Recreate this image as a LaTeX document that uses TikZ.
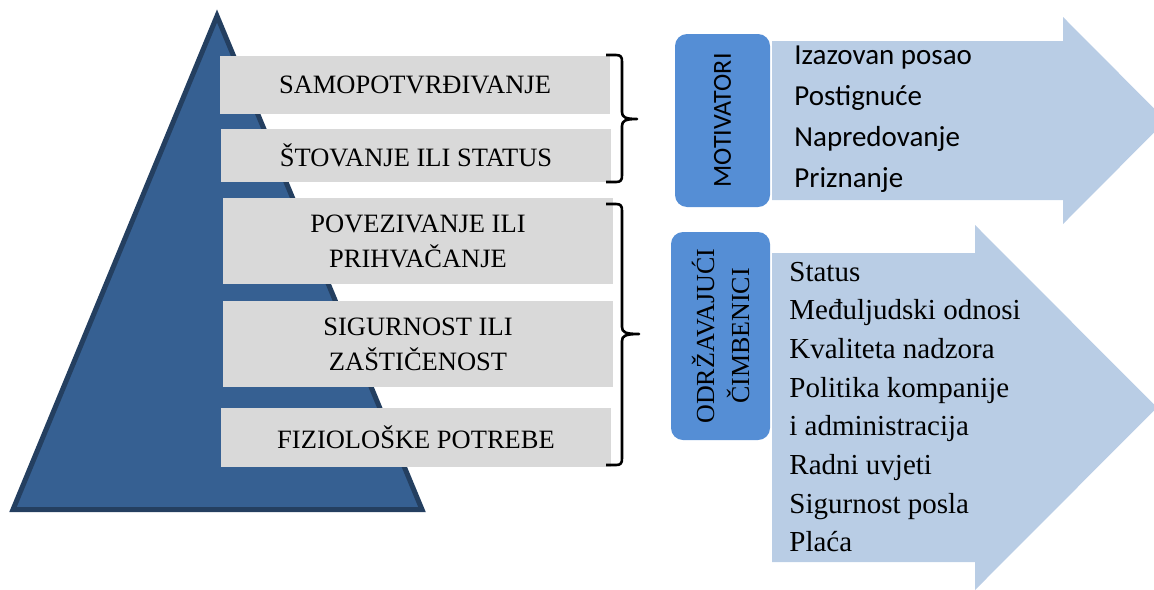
\documentclass[tikz,border=0pt]{standalone}
\usepackage{fontspec}
\setmainfont{Liberation Serif}
\newfontfamily\calibri{Carlito}

\definecolor{pyrblue}{RGB}{54,96,146}
\definecolor{pyredge}{RGB}{36,63,96}
\definecolor{levelgray}{RGB}{217,217,217}
\definecolor{tagblue}{RGB}{85,142,213}
\definecolor{arrowblue}{RGB}{185,205,229}

\begin{document}
\begin{tikzpicture}[
      x=0.5pt, y=-0.5pt,
      level/.style={fill=levelgray, inner sep=0pt, minimum width=195pt, align=center,
        font=\fontsize{13.25}{17.5}\selectfont},
      tag/.style={fill=tagblue, rounded corners=6pt, rotate=90, inner sep=0pt, align=center},
      item/.style={anchor=base west, inner sep=0pt},
      bracket/.style={line width=1.3pt, line join=round},
    ]
      \useasboundingbox (0,0) rectangle (1154,589);
      \clip (0,0) rectangle (1154,589);

      % pyramid
      \draw[fill=pyrblue, draw=pyredge, line width=2.5pt] (217,16) -- (13,509.5) -- (422,509.5) -- cycle;

      % levels of needs
      \node[level, minimum height=29pt] (selfact) at (415,85) {SAMOPOTVRĐIVANJE};
      \node[level, minimum height=26.5pt] (esteem) at (416,155.5) {ŠTOVANJE ILI STATUS};
      \node[level, minimum height=43pt] (belong) at (418,241) {POVEZIVANJE ILI\\PRIHVAČANJE};
      \node[level, minimum height=43pt] (safety) at (418,344) {SIGURNOST ILI\\ZAŠTIČENOST};
      \node[level, minimum height=29.5pt] (physio) at (416,437.5) {FIZIOLOŠKE POTREBE};

      % brackets
      \draw[bracket] (606,55) -- (616,55) .. controls (621,55) and (622,57) .. (622,62)
        -- (622,112) .. controls (622,117) and (625,119) .. (637,119)
        .. controls (625,119) and (622,121) .. (622,126)
        -- (622,175) .. controls (622,180) and (621,182) .. (616,182) -- (606,182);
      \draw[bracket] (606,204) -- (616,204) .. controls (621,204) and (622,206) .. (622,211)
        -- (622,327) .. controls (622,332) and (625,334) .. (639,334)
        .. controls (625,334) and (622,336) .. (622,341)
        -- (622,458) .. controls (622,463) and (621,465) .. (616,465) -- (606,465);

      % arrows
      \fill[arrowblue] (772,41) -- (1063,41) -- (1063,17) -- (1166,120.5) -- (1063,224)
        -- (1063,200) -- (772,200) -- cycle;
      \fill[arrowblue] (772,253) -- (975,253) -- (975,225) -- (1157,407.5) -- (975,590)
        -- (975,562) -- (772,562) -- cycle;

      % tags
      \node[tag, minimum width=86.5pt, minimum height=47.5pt,
        font=\calibri\fontsize{13}{15}\selectfont] (motiv) at (722.5,120.5) {MOTIVATORI};
      \node[tag, minimum width=104pt, minimum height=49.5pt,
        font=\fontsize{13}{17.5}\selectfont] (hygiene) at (720.5,336) {ODRŽAVAJUĆI\\ČIMBENICI};

      % factor lists
      \foreach \txt [count=\i] in {Izazovan posao, Postignuće, Napredovanje, Priznanje}
        \node[item, font=\calibri\fontsize{14.5}{17}\selectfont] (mot\i) at (794,{64+41.3*(\i-1)}) {\txt};
      \foreach \txt [count=\i] in {Status, Međuljudski odnosi, Kvaliteta nadzora, Politika kompanije,
          i administracija, Radni uvjeti, Sigurnost posla, Plaća}
        \node[item, font=\fontsize{14.5}{17}\selectfont] (hyg\i) at (789,{281+38.7*(\i-1)}) {\txt};
    \end{tikzpicture}
\end{document}
